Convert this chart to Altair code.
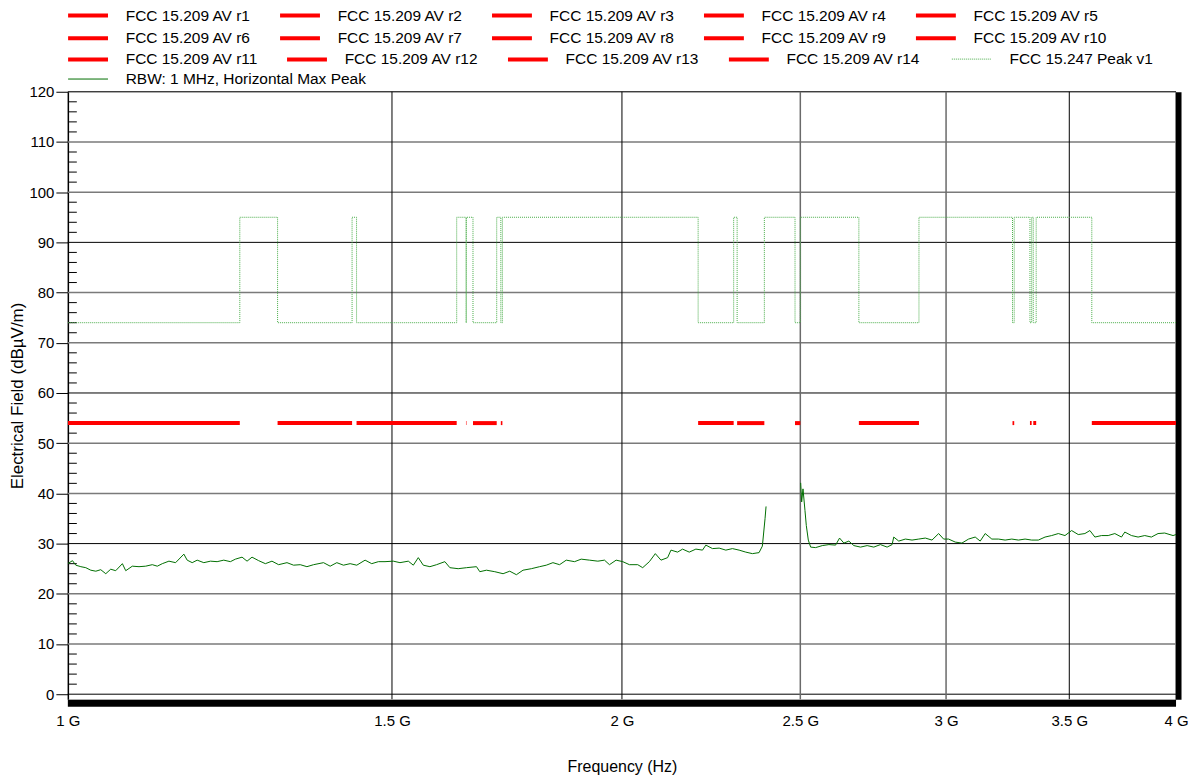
import altair as alt
import pandas as pd

FONT = "Liberation Sans"

# ---------------- data ----------------
band_names = [f"FCC 15.209 AV r{i}" for i in range(1, 15)]
band_start = [1000, 1300, 1435, 1645.5, 1660, 1718.8, 2200, 2310, 2483.5, 2690, 3260, 3332, 3345.8, 3600]
band_stop = [1240, 1427, 1626.5, 1646.5, 1710, 1722.2, 2300, 2390, 2500, 2900, 3267, 3339, 3358, 4000]
av_limit_level = 54

peak_name = "FCC 15.247 Peak v1"
peak_freq = [1000, 1240, 1300, 1427, 1435, 1626.5, 1645.5, 1646.5, 1660, 1710, 1718.8, 1722.2,
             2200, 2300, 2310, 2390, 2483.5, 2500, 2690, 2900, 3260, 3267, 3332, 3339,
             3345.8, 3358, 3600, 4000]
peak_level = [74, 95, 74, 95, 74, 95, 74, 95, 74, 95, 74, 95,
              74, 95, 74, 95, 74, 95, 74, 95, 74, 95, 74, 95,
              74, 95, 74, 74]

trace_name = "RBW: 1 MHz, Horizontal Max Peak"
trace_freq_low = [
    1000, 1005.8, 1010.0, 1016.4, 1022.7, 1029.1, 1035.6, 1042.0, 1048.6, 1055.1,
    1061.7, 1070.6, 1075.1, 1084.0, 1093.1, 1102.2, 1111.4, 1118.4, 1125.4, 1134.8,
    1144.3, 1156.2, 1161.0, 1168.3, 1175.6, 1185.4, 1195.3, 1205.3, 1215.4, 1225.5,
    1233.2, 1243.5, 1251.3, 1259.1, 1269.6, 1280.3, 1290.9, 1301.7, 1315.4, 1326.3,
    1337.4, 1348.6, 1359.9, 1376.9, 1388.4, 1400.0, 1411.7, 1423.5, 1435.4, 1450.4,
    1462.5, 1474.7, 1487.0, 1502.6, 1515.1, 1531.0,
    1540.6, 1550.2, 1559.9, 1572.9, 1586.1, 1602.6, 1612.7, 1629.5, 1646.6, 1667.3,
    1674.2, 1688.2, 1705.9, 1723.7, 1738.1, 1752.6, 1767.2, 1785.7, 1804.3, 1819.4,
    1834.6, 1849.9, 1865.4, 1884.9, 1900.6, 1920.5, 1940.6, 1956.8, 1969.0, 1985.5,
    2002.1, 2018.8, 2039.9, 2052.6, 2069.8, 2085.3, 2100.1, 2117.6, 2126.5, 2144.2,
    2157.6, 2175.7, 2193.8, 2212.1, 2221.4, 2239.9, 2258.6, 2277.5, 2296.5, 2315.7,
    2335.1, 2354.6, 2374.2, 2384.1, 2392.1, 2395.1]
trace_level_low = [
    26.0, 26.6, 25.7, 25.4, 25.2, 24.7, 24.5, 24.8, 24.0, 24.9,
    24.6, 26.0, 24.6, 25.5, 25.4, 25.5, 25.8, 25.5, 26.0, 26.5,
    26.2, 27.9, 26.7, 26.2, 26.7, 26.2, 26.5, 26.4, 26.7, 26.4,
    26.9, 27.3, 26.5, 27.3, 26.6, 26.0, 26.5, 25.8, 26.2, 25.7,
    25.8, 25.4, 25.8, 26.2, 25.5, 26.2, 25.7, 26.0, 25.7, 26.7,
    26.0, 26.4, 26.4, 26.5, 26.2, 26.5,
    25.7, 27.2, 25.7, 25.4, 25.8, 26.4, 25.2, 25.0, 25.2, 25.4,
    24.4, 24.7, 24.4, 24.0, 24.5, 23.8, 24.7, 25.0, 25.4, 25.7,
    26.2, 25.8, 26.7, 26.4, 26.9, 26.7, 26.5, 26.7, 25.8, 26.7,
    26.4, 25.8, 25.8, 25.2, 26.4, 28.0, 26.7, 27.2, 28.7, 28.3,
    28.9, 28.3, 28.9, 28.7, 29.7, 29.0, 29.1, 28.7, 29.0, 28.7,
    28.3, 28.0, 28.2, 29.5, 35.0, 37.4]
trace_freq_high = [
    2501.1, 2504.2, 2508.4, 2514.6, 2518.8, 2525.1, 2532.5, 2548.3, 2569.6, 2591.1,
    2612.7, 2625.8, 2640.0, 2656.5, 2673.2, 2695.5, 2718.0, 2740.7, 2763.6, 2786.7,
    2804.1, 2810.0, 2827.6, 2851.2, 2875.0, 2899.0, 2923.2, 2947.6, 2972.3, 2990.9,
    3009.6, 3034.7, 3060.0, 3085.6, 3111.4, 3130.9, 3150.5, 3176.8, 3203.3, 3230.1,
    3257.0, 3284.3, 3311.7, 3339.3, 3367.2, 3395.4, 3423.7, 3452.3, 3481.2, 3510.2,
    3539.5, 3569.1, 3591.4, 3613.9, 3644.0, 3674.5, 3705.2, 3736.1, 3751.7, 3783.0,
    3814.6, 3846.5, 3878.6, 3911.0, 3943.7, 3985.1, 4000]
trace_level_high = [
    42.1, 38.3, 40.9, 36.6, 33.6, 30.7, 29.3, 29.2, 29.6, 29.8,
    29.7, 31.1, 30.1, 30.5, 29.6, 29.3, 29.6, 29.3, 29.8, 29.3,
    29.8, 31.3, 30.5, 30.9, 30.7, 30.9, 31.1, 30.7, 32.0, 30.9,
    30.9, 30.3, 30.1, 30.9, 31.3, 30.5, 32.0, 30.9, 30.9, 30.7,
    30.9, 30.7, 30.9, 30.7, 30.7, 31.3, 31.6, 32.0, 31.6, 32.6,
    31.8, 32.0, 32.6, 31.3, 31.6, 31.6, 32.0, 31.3, 32.3, 31.6,
    31.3, 31.6, 31.3, 32.0, 32.1, 31.6, 31.8]

x_tick_values = [1000, 1500, 2000, 2500, 3000, 3500, 4000]
y_tick_values = [0, 10, 20, 30, 40, 50, 60, 70, 80, 90, 100, 110, 120]
grid_dark_levels = [0, 30, 60, 90, 120]
grid_gray_levels = [10, 20, 40, 50, 70, 80, 100, 110]
grid_dark_freqs = [1500, 2000, 3500]
grid_gray_freqs = [2500, 3000]
minor_tick_levels = [v for v in range(2, 120, 2) if v % 10]
frame_freq_range = [1000, 4000]
frame_level_floor = -1

# ---------------- tables ----------------
rows = []
for name, a, b in zip(band_names, band_start, band_stop):
    rows.append({"series": name, "freq": a, "level": av_limit_level})
    rows.append({"series": name, "freq": b, "level": av_limit_level})
av_df = pd.DataFrame(rows)
av_first = av_df[av_df["series"].isin(band_names[:10])].rename(columns={"series": "band_a"})
av_last = av_df[av_df["series"].isin(band_names[10:])].rename(columns={"series": "band_b"})
peak_df = pd.DataFrame({"peak": peak_name, "freq": peak_freq, "level": peak_level})

trace_df = pd.concat([
    pd.DataFrame({"freq": trace_freq_low, "level": trace_level_low, "seg": "a"}),
    pd.DataFrame({"freq": trace_freq_high, "level": trace_level_high, "seg": "b"}),
])
trace_df["trace"] = trace_name

frame_df = pd.DataFrame({"lo": [frame_freq_range[0]], "hi": [frame_freq_range[1]],
                         "floor": [frame_level_floor]})

# ---------------- scales / axes ----------------
xscale = alt.Scale(type="log", domain=frame_freq_range, nice=False)
yscale = alt.Scale(domain=[frame_level_floor, 120], nice=False, zero=False)

xaxis = alt.Axis(values=x_tick_values, labelExpr="datum.value / 1000 + ' G'",
                 grid=False, ticks=False, domain=False, offset=4,
                 labelFlush=False, labelOverlap=False, labelFont=FONT, labelFontSize=15,
                 labelColor="black", labelPadding=10,
                 title="Frequency (Hz)", titleFont=FONT, titleFontSize=16,
                 titleFontWeight="normal", titleColor="black", titlePadding=30)
yaxis_left = alt.Axis(orient="left", values=y_tick_values, grid=False, tickSize=12,
                      tickColor="black", tickWidth=1, domainColor="black", domainWidth=1.5,
                      labelFont=FONT, labelFontSize=15, labelColor="black", labelPadding=2,
                      title="Electrical Field (dBµV/m)", titleFont=FONT, titleFontSize=17,
                      titleFontWeight="normal", titleColor="black", titlePadding=2)
yaxis_right = alt.Axis(orient="right", labels=False, ticks=False, grid=False,
                       domainColor="black", domainWidth=6, offset=2, title=None)

RED = "#ff0000"
PEAK_GREEN = "#49ad49"
TRACE_GREEN = "#006e00"

leg_common = dict(symbolType="M-4,0H4", symbolSize=100, symbolOffset=12.5, labelOffset=30,
                  labelFont=FONT, labelFontSize=15.5, labelColor="black", labelLimit=0, padding=0,
                  direction="horizontal")
leg_rows12 = alt.Legend(orient="none", legendX=0, legendY=-84.5, columns=5, columnPadding=20.5,
                        rowPadding=5, symbolStrokeWidth=4, symbolStrokeColor=RED, **leg_common)
leg_row3 = alt.Legend(orient="none", legendX=0, legendY=-40.5, columns=4, columnPadding=20.5,
                      symbolStrokeColor=RED, **leg_common)
leg_peak = alt.Legend(orient="none", legendX=886, legendY=-40.5, symbolStrokeWidth=1,
                      symbolStrokeColor=PEAK_GREEN, **leg_common)
leg_trace = alt.Legend(orient="none", legendX=0, legendY=-20.5, symbolStrokeWidth=1,
                       **leg_common)

# ---------------- layers ----------------
h_dark = alt.Chart(pd.DataFrame({"level": grid_dark_levels})).mark_rule(
    color="black", strokeWidth=1).encode(y=alt.Y("level:Q", scale=yscale, axis=yaxis_left))
h_gray = alt.Chart(pd.DataFrame({"level": grid_gray_levels})).mark_rule(
    color="#7a7a7a", strokeWidth=1.5).encode(y=alt.Y("level:Q", scale=yscale, axis=yaxis_right))
v_dark = alt.Chart(pd.DataFrame({"freq": grid_dark_freqs})).mark_rule(
    color="black", strokeWidth=1).encode(x=alt.X("freq:Q", scale=xscale, axis=xaxis))
v_gray = alt.Chart(pd.DataFrame({"freq": grid_gray_freqs})).mark_rule(
    color="#6a6a6a", strokeWidth=1.5).encode(x=alt.X("freq:Q", scale=xscale, axis=xaxis))
minor = alt.Chart(pd.DataFrame({"level": minor_tick_levels})).mark_rule(
    color="black", strokeWidth=1).encode(
    y=alt.Y("level:Q", scale=yscale, axis=None), x=alt.value(1), x2=alt.value(9))
bottom_bar = alt.Chart(frame_df).mark_rule(color="black", strokeWidth=7, yOffset=4).encode(
    x=alt.X("lo:Q", scale=xscale, axis=xaxis), x2="hi:Q",
    y=alt.Y("floor:Q", scale=yscale, axis=None))

av_a = alt.Chart(av_first).mark_line(strokeWidth=4, clip=True).encode(
    x=alt.X("freq:Q", scale=xscale, axis=xaxis),
    y=alt.Y("level:Q", scale=yscale, axis=None),
    color=alt.Color("band_a:N", scale=alt.Scale(domain=band_names[:10], range=[RED] * 10),
                    legend=leg_rows12, title=None),
)
av_b = alt.Chart(av_last).mark_line(color=RED, clip=True).encode(
    x=alt.X("freq:Q", scale=xscale, axis=xaxis),
    y=alt.Y("level:Q", scale=yscale, axis=None),
    strokeWidth=alt.StrokeWidth("band_b:O", scale=alt.Scale(domain=band_names[10:], range=[4, 4, 4, 4]),
                                legend=leg_row3, title=None),
)
peak = alt.Chart(peak_df).mark_line(strokeWidth=1, color=PEAK_GREEN, interpolate="step-after",
                                    clip=True).encode(
    x=alt.X("freq:Q", scale=xscale, axis=xaxis),
    y=alt.Y("level:Q", scale=yscale, axis=None),
    strokeDash=alt.StrokeDash("peak:N", scale=alt.Scale(domain=[peak_name], range=[[1, 1]]),
                              legend=leg_peak, title=None),
)
trace = alt.Chart(trace_df).mark_line(strokeWidth=1, clip=True).encode(
    x=alt.X("freq:Q", scale=xscale, axis=xaxis),
    y=alt.Y("level:Q", scale=yscale, axis=None),
    stroke=alt.Stroke("trace:N", scale=alt.Scale(domain=[trace_name], range=[TRACE_GREEN]),
                      legend=leg_trace, title=None),
    detail="seg:N",
)

chart = alt.layer(h_gray, h_dark, v_gray, v_dark, minor, bottom_bar, av_a, av_b, peak,
                  trace).resolve_axis(y="independent").properties(
    width=1111, height=609,
    padding={"left": 0, "top": -2, "right": 0, "bottom": 0},
).configure_view(stroke=None).configure(background="white", font=FONT)

chart.save("out.html", embed_options={"renderer": "svg", "actions": False})
